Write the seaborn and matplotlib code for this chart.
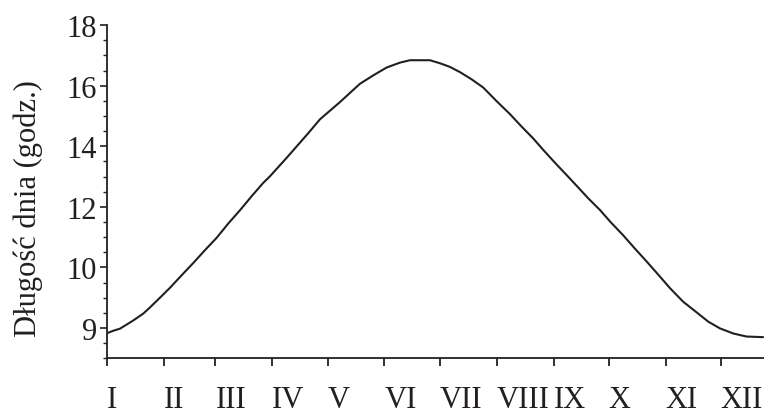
import matplotlib
matplotlib.use("Agg")
import matplotlib.pyplot as plt
import seaborn as sns
import pandas as pd
from matplotlib.ticker import MultipleLocator

# Day of year (0 = 1 January) and day length in hours
days = [0, 3.4, 7.1, 14.3, 19.8, 23.4, 28.8, 34.3, 40.6, 47, 53.3, 59.7,
        66, 72.4, 78.7, 85, 88.7, 97.8, 109.5, 115.9, 126.8, 134, 137.6,
        144.9, 152.2, 159.4, 164.9, 175.7, 181.2, 186.6, 192, 198.4, 204.7,
        212, 219.3, 225.6, 231.9, 237.4, 243.7, 250.1, 255.5, 261.9, 268.2,
        273.7, 280.9, 287.3, 293.6, 300, 306.3, 313.5, 320.8, 327.2, 333.5,
        340.8, 348, 357]
hours = [7.83, 7.91, 7.98, 8.25, 8.48, 8.68, 9.0, 9.33, 9.74, 10.15, 10.57,
         10.98, 11.45, 11.89, 12.35, 12.79, 13.01, 13.62, 14.43, 14.89, 15.46,
         15.86, 16.06, 16.34, 16.6, 16.76, 16.84, 16.84, 16.74, 16.62, 16.45,
         16.21, 15.94, 15.49, 15.06, 14.65, 14.26, 13.88, 13.46, 13.05, 12.7,
         12.28, 11.9, 11.52, 11.06, 10.62, 10.2, 9.76, 9.32, 8.87, 8.52, 8.21,
         7.99, 7.82, 7.72, 7.70]

month_starts = [0, 31, 59, 90, 120, 151, 181, 212, 243, 273, 304, 334]
month_labels = ["I", "II", "III", "IV", "V", "VI", "VII", "VIII", "IX", "X",
                "XI", "XII"]

ytick_values = [8, 10, 12, 14, 16, 18]
ytick_labels = ["9", "10", "12", "14", "16", "18"]

y_label = "Długość dnia (godz.)"

sns.set_theme(style="ticks")
plt.rcParams["font.family"] = ["Liberation Serif", "DejaVu Serif"]

df = pd.DataFrame({"day": days, "hours": hours})

fig = plt.figure(figsize=(7.64, 4.14), dpi=100)
ax = fig.add_axes([0.140, 0.132, 0.860, 0.805])

ink = "#231f20"
sns.lineplot(data=df, x="day", y="hours", ax=ax, color=ink, linewidth=1.5)

ax.set_xlim(0, 357.5)
ax.set_ylim(7, 18)

ax.set_xticks(month_starts)
ax.set_xticklabels(month_labels, ha="left", fontsize=22, color=ink)
ax.set_yticks(ytick_values)
ax.set_yticklabels(ytick_labels, fontsize=22, color=ink)
ax.yaxis.set_minor_locator(MultipleLocator(0.5))

ax.tick_params(axis="x", which="major", direction="out", length=6, width=1.3,
               pad=13, colors=ink)
ax.tick_params(axis="y", which="major", direction="out", length=5, width=1.2,
               pad=2, colors=ink)
ax.tick_params(axis="y", which="minor", direction="out", length=3, width=1.0,
               colors=ink)

ax.set_xlabel("")
ax.set_ylabel(y_label, fontsize=22, color=ink)
ax.yaxis.set_label_coords(-0.097, 0.452)

sns.despine(ax=ax)
for s in ["left", "bottom"]:
    ax.spines[s].set_linewidth(1.3)
    ax.spines[s].set_color(ink)

fig.savefig("out.png", dpi=100)
